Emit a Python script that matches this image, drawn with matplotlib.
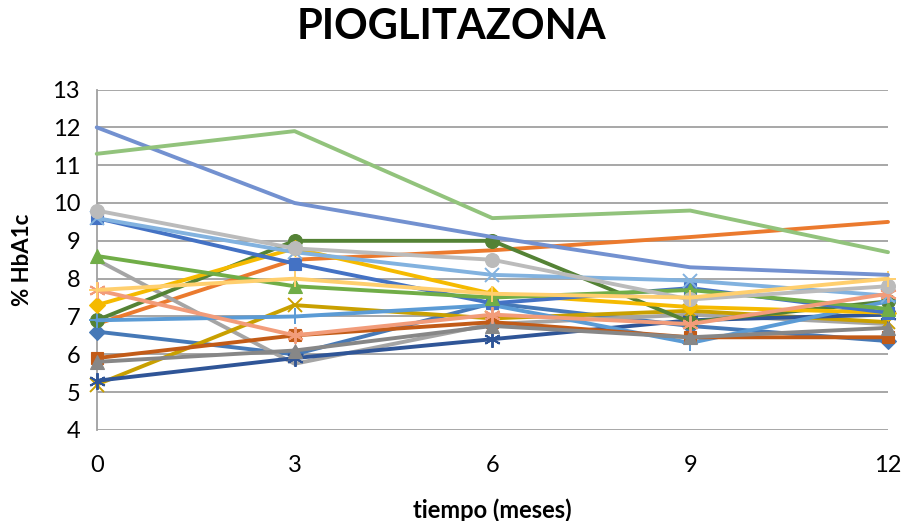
"""Evolución de HbA1c con pioglitazona: gráfico de líneas estilo Excel."""

import matplotlib

matplotlib.use("Agg")

import matplotlib.pyplot as plt

plt.rcParams["font.family"] = ["Lato", "DejaVu Sans"]

MONTHS = [0, 3, 6, 9, 12]

# valores (% HbA1c por paciente)
VIOLET = [12.0, 10.0, 9.1, 8.3, 8.1]
LIGHT_GREEN = [11.3, 11.9, 9.6, 9.8, 8.7]
LIGHT_GRAY = [9.8, 8.8, 8.5, 7.45, 7.8]
BLUE = [9.6, 8.4, 7.35, 7.75, 7.1]
LIGHT_BLUE = [9.6, 8.7, 8.1, 7.95, 7.55]
DARK_GREEN = [6.9, 9.0, 9.0, 6.85, 7.4]
ORANGE = [6.8, 8.5, 8.75, 9.1, 9.5]
GOLD = [7.3, 8.8, 7.6, 7.25, 7.1]
GREEN = [8.6, 7.8, 7.5, 7.7, 7.2]
GRAY = [8.5, 5.75, 6.8, 7.05, 6.8]
LIGHT_YELLOW = [7.7, 8.0, 7.6, 7.5, 8.0]
SALMON = [7.7, 6.5, 7.05, 6.8, 7.6]
SKY_BLUE = [6.9, 7.0, 7.3, 6.3, 7.4]
STEEL_BLUE = [6.6, 6.0, 7.35, 6.75, 6.35]
DARK_ORANGE = [5.9, 6.5, 6.85, 6.45, 6.45]
DARK_GRAY = [5.8, 6.1, 6.75, 6.45, 6.7]
DARK_GOLD = [5.2, 7.3, 6.95, 7.15, 6.85]
DARK_BLUE = [5.3, 5.9, 6.4, 6.9, 7.05]

# (valores, color, marcador, tamaño)
SERIES = [
    (STEEL_BLUE, "#4679B7", "D", 8),
    (ORANGE, "#EB7A2E", None, 0),
    (GRAY, "#A5A5A5", None, 0),
    (DARK_GOLD, "#C9A000", "x", 10),
    (DARK_BLUE, "#2F5597", (6, 2, 0), 12),
    (DARK_GREEN, "#548235", "o", 10),
    (SKY_BLUE, "#5B9BD5", "+", 12),
    (DARK_ORANGE, "#C25B17", "s", 9),
    (DARK_GRAY, "#878787", "^", 10),
    (GOLD, "#F5BA00", "D", 8),
    (BLUE, "#4472C4", "s", 9),
    (GREEN, "#70AD47", "^", 10),
    (LIGHT_BLUE, "#82B2DF", "x", 10),
    (SALMON, "#F29C7A", (6, 2, 0), 12),
    (LIGHT_GRAY, "#BBBBBB", "o", 10),
    (LIGHT_YELLOW, "#FFCF6E", "+", 12),
    (VIOLET, "#7391D0", None, 0),
    (LIGHT_GREEN, "#92C37C", None, 0),
]


def main() -> None:
    fig = plt.figure(figsize=(9.03, 5.21), dpi=100)
    ax = fig.add_axes([0.1071, 0.1747, 0.8763, 0.6535])

    for values, color, marker, size in SERIES:
        ax.plot(
            MONTHS,
            values,
            color=color,
            linewidth=2.8,
            marker=marker,
            markersize=size,
            markeredgewidth=1.4 if marker in ("x", "+", (6, 2, 0)) else 0.8,
            markerfacecolor=color,
            markeredgecolor=color,
            solid_joinstyle="round",
            solid_capstyle="round",
            clip_on=False,
            zorder=3,
        )

    ax.set_xlim(0, 12)
    ax.set_ylim(4, 13)
    ax.set_xticks(MONTHS)
    ax.set_yticks(range(4, 14))
    ax.tick_params(length=0, labelsize=17, colors="#000000")
    ax.tick_params(axis="x", pad=18)
    ax.tick_params(axis="y", pad=12)
    ax.grid(axis="y", color="#A0A0A0", linewidth=1.3, zorder=1)
    for side in ("top", "right", "bottom"):
        ax.spines[side].set_visible(False)
    ax.spines["left"].set_color("#A0A0A0")
    ax.spines["left"].set_linewidth(1.3)

    ax.set_xlabel("tiempo (meses)", fontsize=17, fontweight="bold", labelpad=16)
    ax.set_ylabel("% HbA1c", fontsize=16, fontweight="bold", labelpad=14)
    fig.suptitle("PIOGLITAZONA", fontsize=30, fontweight="bold", x=0.5, y=0.985)

    fig.savefig("out.png", dpi=100)
    plt.close(fig)


if __name__ == "__main__":
    main()
